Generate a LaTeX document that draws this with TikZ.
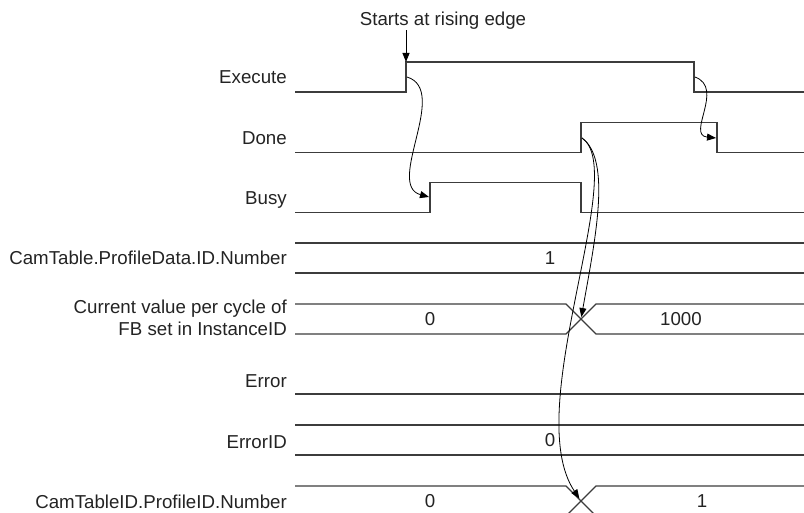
\documentclass[tikz,border=0pt]{standalone}
\usepackage{fontspec}
\setmainfont{Liberation Sans}
\usepackage{xcolor}
\usetikzlibrary{arrows.meta}
\definecolor{linegray}{RGB}{60,60,60}
\definecolor{textgray}{RGB}{35,35,35}

\begin{document}
\begin{tikzpicture}[x=1pt,y=-1pt,
		sig/.style={draw=linegray, line width=1.4pt},
		cause/.style={draw=black, line width=0.8pt, -{Triangle[length=9pt,width=7pt]}},
		lbl/.style={inner sep=0pt, text=textgray, font=\fontsize{18.7}{22.6}\selectfont, align=right}]
	\useasboundingbox (0,0) rectangle (804,513);

	% signal names
	\node[lbl, anchor=base east] (execute) at (287,83.6) {Execute};
	\node[lbl, anchor=base east] (done) at (287,144.3) {Done};
	\node[lbl, anchor=base east] (busy) at (287,204.1) {Busy};
	\node[lbl, anchor=base east] (profdata) at (287,264.6) {CamTable.ProfileData.ID.Number};
	\node[lbl, anchor=east] (curval) at (287,318) {Current value per cycle of\\FB set in InstanceID};
	\node[lbl, anchor=base east] (error) at (287,387.6) {Error};
	\node[lbl, anchor=base east] (errorid) at (287,448.3) {ErrorID};
	\node[lbl, anchor=base east] (profid) at (287,508.3) {CamTableID.ProfileID.Number};

	% bit signals
	\draw[sig] (295,92) -- (406,92) -- (406,62) -- (694,62) -- (694,92) -- (804,92);
	\draw[sig] (295,152.7) -- (581,152.7) -- (581,122.7) -- (717,122.7) -- (717,152.7) -- (804,152.7);
	\draw[sig] (295,212.3) -- (430,212.3) -- (430,182.7) -- (581,182.7) -- (581,212.3) -- (804,212.3);
	\draw[sig] (295,394) -- (804,394);

	% word signals
	\draw[sig] (295,243) -- (804,243);
	\draw[sig] (295,273) -- (804,273);
	\draw[sig] (295,304) -- (566,304) -- (596,334) -- (804,334);
	\draw[sig] (295,334) -- (566,334) -- (596,304) -- (804,304);
	\draw[sig] (295,425) -- (804,425);
	\draw[sig] (295,455) -- (804,455);
	\draw[sig] (295,486) -- (566,486) -- (596,516) -- (804,516);
	\draw[sig] (295,516) -- (566,516) -- (596,486) -- (804,486);

	% values
	\node[lbl, anchor=base] (pdval) at (550,264.6) {1};
	\node[lbl, anchor=base] (cvold) at (430,325.3) {0};
	\node[lbl, anchor=base] (cvnew) at (681,325.3) {1000};
	\node[lbl, anchor=base] (eival) at (550,446.6) {0};
	\node[lbl, anchor=base] (piold) at (430,507.3) {0};
	\node[lbl, anchor=base] (pinew) at (702,507.3) {1};

	% edges and crossings
	\coordinate (exeRise) at (406,62);
	\coordinate (exeUp) at (407,77);
	\coordinate (exeDown) at (695,77);
	\coordinate (doneUp) at (582,138);
	\coordinate (doneDown) at (716,138);
	\coordinate (busyUp) at (429,197);
	\coordinate (curCross) at (581,319);
	\coordinate (camCross) at (581,501);

	\node[lbl, anchor=base] (start) at (443,26) {Starts at rising edge};
	\draw[cause] (start.south -| exeRise) -- (exeRise);

	\draw[cause] (exeUp) .. controls +(43,13) and +(-44,-12) .. (busyUp);
	\draw[cause] (exeDown) .. controls +(30,11) and +(-30,-3) .. (doneDown);
	\draw[cause, shorten >=2pt] (doneUp) .. controls +(30,22) and +(14,-79) .. (curCross);
	\draw[cause, shorten >=3pt] (doneUp) .. controls +(48,32) and +(-61,-91) .. (camCross);
\end{tikzpicture}
\end{document}
